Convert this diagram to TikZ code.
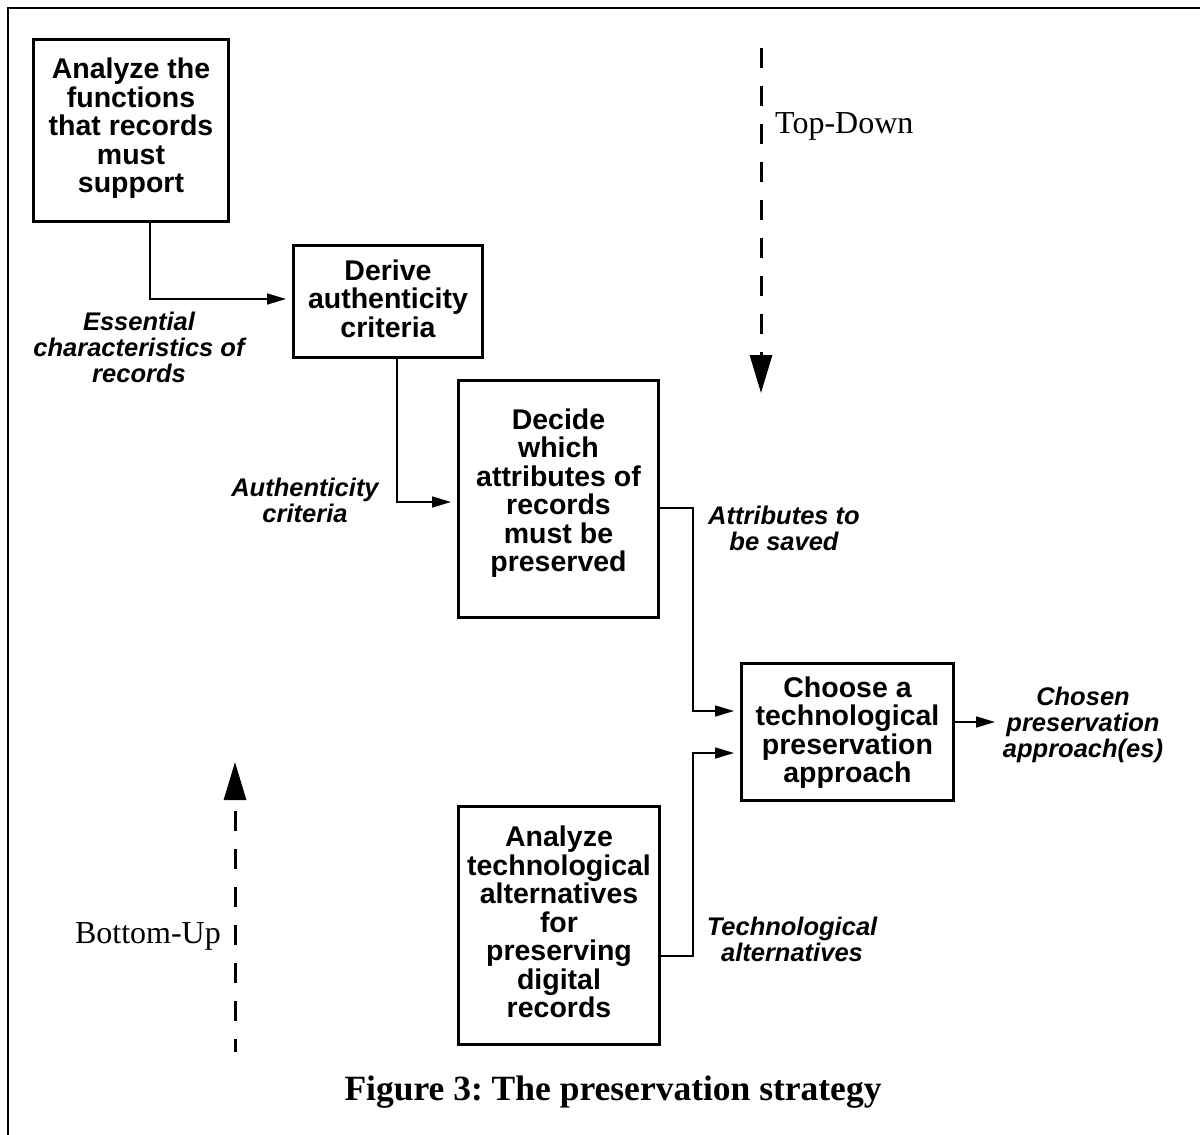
\documentclass[tikz,border=0pt]{standalone}
\usepackage{fontspec}
\setmainfont{Liberation Sans}
\newfontfamily\romanface{Liberation Serif}
\usetikzlibrary{arrows.meta}
\frenchspacing
\begin{document}
\begin{tikzpicture}[x=1pt,y=-1pt,
  stepbox/.style 2 args={draw, line width=3pt, inner sep=0pt, minimum width=#1, minimum height=#2},
  steptext/.style={font=\fontsize{28.5}{28.5}\selectfont\bfseries, align=center, inner sep=0pt},
  flowlabel/.style={font=\fontsize{25.5}{26}\selectfont\bfseries\itshape, align=center, inner sep=0pt},
  conn/.style={line width=1.6pt, shorten >=6pt, -{Triangle[length=19pt,width=11pt]}},
  trend/.style={line width=3pt, dash pattern=on 20pt off 18pt, -{Triangle[length=38pt,width=22pt]}},
  trendlabel/.style={font=\romanface\fontsize{32}{32}\selectfont, inner sep=0pt}
]
\useasboundingbox (0,0) rectangle (1200,1135);

% page frame (top and left rules)
\draw[line width=2pt] (8,1135) -- (8,8) -- (1200,8);

% process boxes
\node[stepbox={195}{182}] (b1) at (130.5,130) {};
\node[stepbox={189}{112}] (b2) at (388,301.5) {};
\node[stepbox={200}{237}] (b3) at (558.5,499) {};
\node[stepbox={212}{137}] (b4) at (847.5,732) {};
\node[stepbox={201}{238}] (b5) at (559,925.5) {};

% box texts
\node[steptext] (t1) at (131,128.4) {Analyze the\\functions\\that records\\must\\support};
\node[steptext] (t2) at (388,298.6) {Derive\\authenticity\\criteria};
\node[steptext] (t3) at (558.5,493) {Decide\\which\\attributes of\\records\\must be\\preserved};
\node[steptext] (t4) at (847.5,732.5) {Choose a\\technological\\preservation\\approach};
\node[steptext] (t5) at (559,922) {Analyze\\technological\\alternatives\\for\\preserving\\digital\\records};

% bend points of the connectors
\coordinate (k1) at (150,299);
\coordinate (k2) at (397,502);
\coordinate (k3a) at (693,508);
\coordinate (k3b) at (693,711);
\coordinate (k4a) at (693,956);
\coordinate (k4b) at (693,753);
\coordinate (k5) at (995,722);

% connectors
\draw[conn] (b1.south -| k1) |- (b2.west |- k1);
\draw[conn] (b2.south -| k2) |- (b3.west |- k2);
\draw[conn] (b3.east |- k3a) -- (k3a) -- (k3b) -- (b4.west |- k3b);
\draw[conn] (b5.east |- k4a) -- (k4a) -- (k4b) -- (b4.west |- k4b);
\draw[conn, shorten >=0pt] (b4.east |- k5) -- (k5);

% flow labels
\node[flowlabel] (l1) at (139,347) {Essential\\characteristics of\\records};
\node[flowlabel] (l2) at (305,500) {Authenticity\\criteria};
\node[flowlabel] (l3) at (784,528) {Attributes to\\be saved};
\node[flowlabel] (l4) at (1083,725) {Chosen\\preservation\\approach(es)};
\node[flowlabel] (l5) at (792,939) {Technological\\alternatives};

% direction arrows
\coordinate (td0) at (761,48);
\coordinate (td1) at (761,393);
\draw[trend] (td0) -- (td1);
\node[trendlabel, anchor=base west] (tdl) at (775,133) {Top-Down};

\coordinate (bu0) at (235,1052);
\coordinate (bu1) at (235,762);
\draw[trend, dash phase=7pt] (bu0) -- (bu1);
\node[trendlabel, anchor=base east] (bul) at (221,943) {Bottom-Up};

% caption
\node[font=\romanface\bfseries\fontsize{35.5}{35.5}\selectfont, anchor=base, inner sep=0pt] (cap) at (613,1100) {Figure 3: The preservation strategy};
\end{tikzpicture}
\end{document}
